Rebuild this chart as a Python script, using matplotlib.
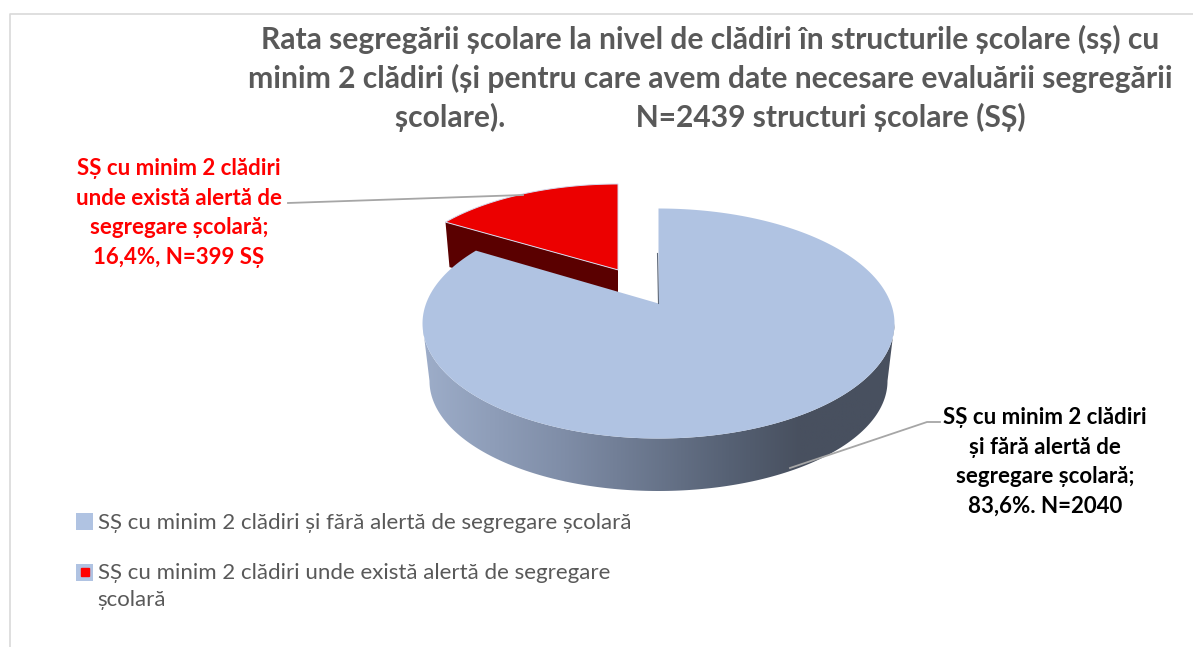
import numpy as np
import matplotlib
matplotlib.use('Agg')
import matplotlib.pyplot as plt
from matplotlib.colors import LinearSegmentedColormap
from matplotlib.legend_handler import HandlerTuple
from matplotlib.lines import Line2D
from matplotlib.patches import Patch, Polygon
from matplotlib.transforms import Affine2D

plt.rcParams['font.family'] = ['Lato', 'Open Sans', 'DejaVu Sans']

# values
counts = [2040, 399]
slice_labels = ['SȘ cu minim 2 clădiri\nși fără alertă de\nsegregare școlară;\n83,6%. N=2040',
                'SȘ cu minim 2 clădiri\nunde există alertă de\nsegregare școlară;\n16,4%, N=399 SȘ']
legend_labels = ['SȘ cu minim 2 clădiri și fără alertă de segregare școlară',
                 'SȘ cu minim 2 clădiri unde există alertă de segregare\nșcolară']
title = ('Rata segregării școlare la nivel de clădiri în structurile școlare (sș) cu\n'
         'minim 2 clădiri (și pentru care avem date necesare evaluării segregării\n'
         'școlare).                  N=2439 structuri școlare (SȘ)')

BLUE = '#B0C3E2'
RED = '#EC0000'
DARK_RED = '#5A0000'
GREY_TEXT = '#595959'
LEADER = '#A6A6A6'


def project(t, cx, cy, rx, ry, k=0.174):
    # fake the perspective of the 3d pie: unit circle -> ellipse, with the apex off centre
    x, y = np.cos(np.radians(t)), np.sin(np.radians(t))
    w = 1 + k * y
    return cx + rx * np.sqrt(1 - k ** 2) * x / w, cy - ry * (y + k) / w


def wedge_xy(t1, t2, cx, cy, rx, ry):
    t = np.linspace(t1, t2, 200)
    px, py = project(t, cx, cy, rx, ry)
    apex_x, apex_y = cx, cy - ry * 0.174
    return np.r_[apex_x, px], np.r_[apex_y, py]


class RaisedHandler(HandlerTuple):
    # the two-line legend entry keeps its marker on the first line
    def __init__(self, shift, **kwargs):
        super().__init__(**kwargs)
        self.shift = shift

    def create_artists(self, legend, orig_handle, xdescent, ydescent, width, height, fontsize, trans):
        raised = Affine2D().translate(0, self.shift) + trans
        return super().create_artists(legend, orig_handle, xdescent, ydescent,
                                      width, height, fontsize, raised)


fig = plt.figure(figsize=(11.93, 6.47), dpi=100)
ax = fig.add_axes([0, 0, 1, 1])

# sweep clockwise from 12 o'clock
sweep = 360 * np.array(counts) / sum(counts)
blue_end = 90 - sweep[0]

# red slice, pulled out of the pie; its wall is hidden in part by the blue top
red_x, red_y = wedge_xy(blue_end - sweep[1], blue_end, 618, 288, 223, 104)
ax.fill([red_x[-1], red_x[0], red_x[0], red_x[-1] + 4],
        [red_y[-1], red_y[0], red_y[0] + 45, red_y[-1] + 45], color=DARK_RED, lw=0, zorder=2)
ax.fill(red_x, red_y, facecolor=RED, edgecolor='#D5DBEF', lw=0.7, zorder=3)

# side wall of the blue slice with its horizontal gradient
t = np.linspace(190, 350, 200)
up_x, up_y = project(t, 658.5, 323.5, 236, 115)
low_x, low_y = project(t, 658.5, 381, 229, 110)
wall = Polygon(np.c_[np.r_[up_x, low_x[::-1]], np.r_[up_y, low_y[::-1]]], closed=True,
               transform=ax.transData, facecolor='none', edgecolor='none')
ax.add_patch(wall)
wall_cmap = LinearSegmentedColormap.from_list(
    'wall', [(0, '#9DADC9'), (0.3, '#7F8DA7'), (0.65, '#566174'), (0.8, '#48505F'), (1, '#48505F')])
im = ax.imshow(np.linspace(0, 1, 256).reshape(1, -1), extent=(423, 895, 500, 300),
               cmap=wall_cmap, aspect='auto', zorder=4)
im.set_clip_path(wall)

# top of the blue slice
blue_x, blue_y = wedge_xy(blue_end, 90, 658.5, 323.5, 236, 115)
ax.fill(blue_x, blue_y, color=BLUE, lw=0, zorder=5)
ax.plot([blue_x[0] - 1, blue_x[0]], [blue_y[0] - 50, blue_y[0]], color='#5E6878', lw=0.8, zorder=5)

# leader lines
ax.plot([288, 523], [203, 195], color=LEADER, lw=1.3, zorder=6)
ax.plot([940, 927, 790], [422, 422, 468], color=LEADER, lw=1.3, zorder=6)

# data labels
ax.text(1045, 462, slice_labels[0], color='black', fontsize=16, fontweight='bold',
        ha='center', va='center', linespacing=1.5, zorder=7)
ax.text(179, 213, slice_labels[1], color='#FF0000', fontsize=16, fontweight='bold',
        ha='center', va='center', linespacing=1.5, zorder=7)

# title
ax.text(710, 78, title, color=GREY_TEXT, fontsize=21.6, fontweight='bold',
        ha='center', va='center', linespacing=1.41, zorder=7)

# legend
handles = [Patch(facecolor=BLUE, edgecolor='none'),
           (Patch(facecolor=BLUE, edgecolor='none'),
            Line2D([], [], ls='none', marker='s', ms=6, color='#FF0000'))]
leg = ax.legend(handles, legend_labels, handler_map={tuple: RaisedHandler(10, ndivide=1, pad=0)},
                loc='upper left', bbox_to_anchor=(76 / 1193, 1 - 513 / 647), borderaxespad=0, borderpad=0,
                frameon=False, fontsize=16, labelcolor=GREY_TEXT, handlelength=0.78, handleheight=0.78,
                handletextpad=0.2, labelspacing=1.33)
for txt in leg.get_texts():
    txt.set_linespacing(1.47)

# chart frame, only the left and top edges are in the crop
ax.plot([10, 10, 1193], [647, 14, 14], color='#D9D9D9', lw=1.2, zorder=1)

ax.set_xlim(0, 1193)
ax.set_ylim(647, 0)
ax.axis('off')

plt.savefig('out.png', dpi=100)
